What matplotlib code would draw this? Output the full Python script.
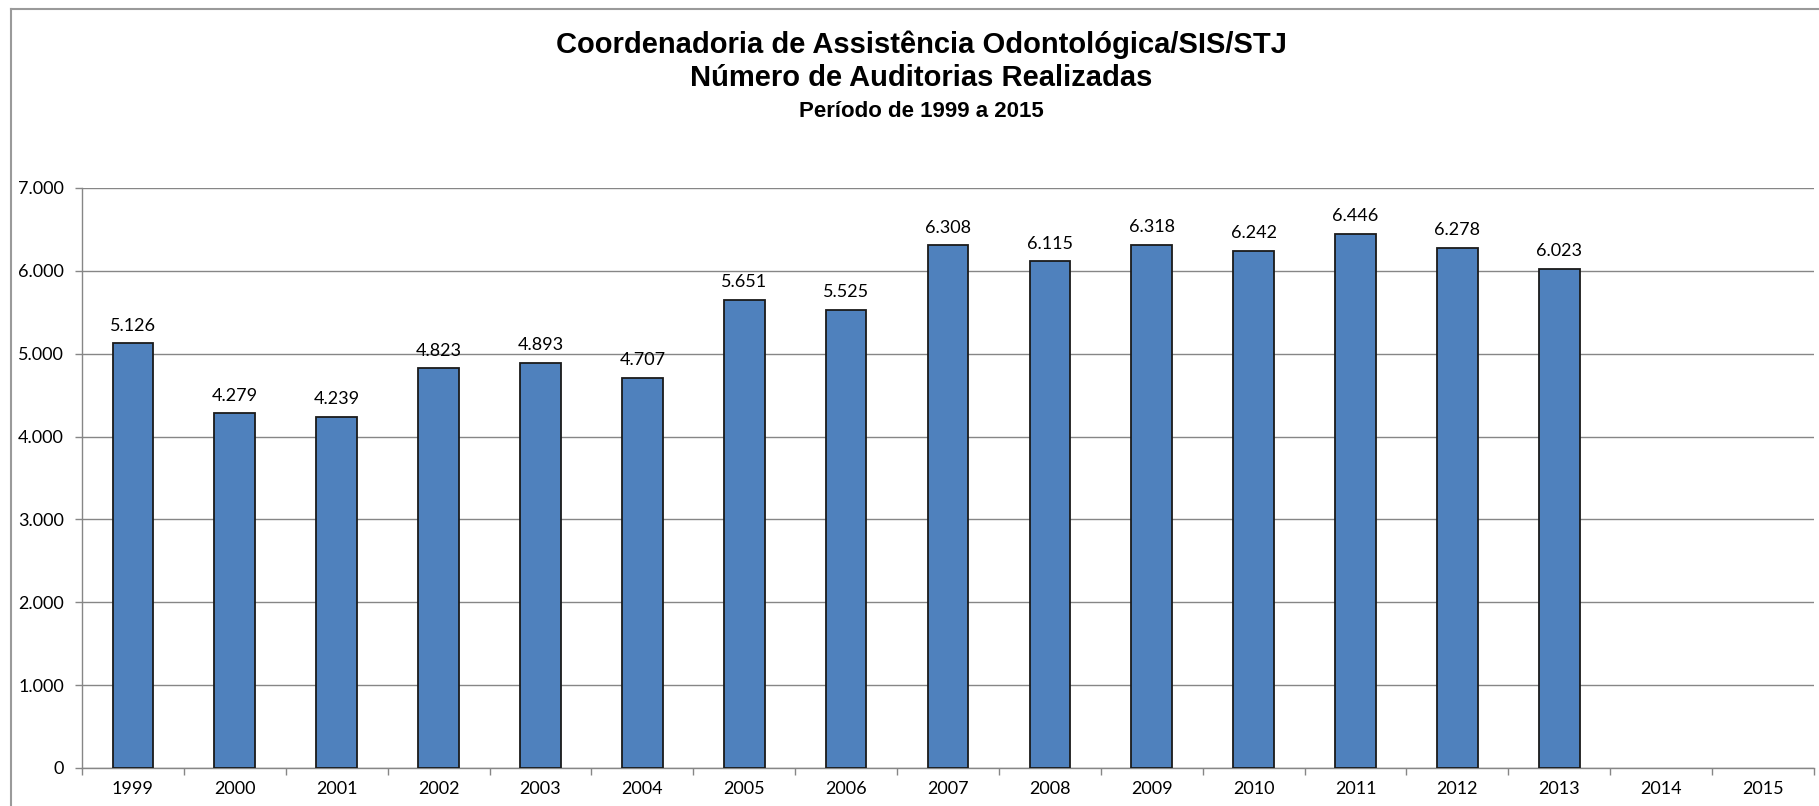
import numpy as np
import matplotlib
matplotlib.use("Agg")
import matplotlib.pyplot as plt
from matplotlib.lines import Line2D
from matplotlib.ticker import FuncFormatter

# data
anos = ['1999', '2000', '2001', '2002', '2003', '2004', '2005', '2006', '2007',
        '2008', '2009', '2010', '2011', '2012', '2013', '2014', '2015']
auditorias = [5126, 4279, 4239, 4823, 4893, 4707, 5651, 5525, 6308,
              6115, 6318, 6242, 6446, 6278, 6023]
titulo = ['Coordenadoria de Assistência Odontológica/SIS/STJ',
          'Número de Auditorias Realizadas',
          'Período de 1999 a 2015']

W, H = 1819, 806
fig = plt.figure(figsize=(W / 100, H / 100), dpi=100)
ax = fig.add_axes([82 / W, 1 - 768 / H, (1814 - 82) / W, (768 - 188) / H])

label_font = 'Lato'
grid_color = '#868686'

x = np.arange(len(anos))
n = len(auditorias)
ax.bar(x[:n], auditorias, width=0.4, color='#4F81BD',
       edgecolor='#1A1A1A', linewidth=1.3, zorder=3)

for xi, v in zip(x[:n], auditorias):
    txt = f'{v:,}'.replace(',', '.')
    ax.annotate(txt, (xi, v), xytext=(0, 7), textcoords='offset points',
                ha='center', va='bottom', fontsize=13, family=label_font,
                color='#000000')

ax.set_xlim(-0.5, len(anos) - 0.5)
ax.set_ylim(0, 7000)
ax.set_yticks(np.arange(0, 7001, 1000))
ax.yaxis.set_major_formatter(
    FuncFormatter(lambda v, p: f'{int(v):,}'.replace(',', '.')))
ax.yaxis.grid(True, color=grid_color, linewidth=1.0, zorder=0)

# category boundaries carry the tick marks, centres carry the labels
ax.set_xticks(np.arange(-0.5, len(anos), 1))
ax.set_xticklabels([])
ax.set_xticks(x, minor=True)
ax.set_xticklabels(anos, minor=True, family=label_font, fontsize=13)
ax.tick_params(axis='x', which='major', length=5, width=1, color=grid_color,
               direction='out')
ax.tick_params(axis='x', which='minor', length=0, pad=9)
ax.tick_params(axis='y', length=5, width=1, color=grid_color, pad=8,
               labelsize=13)
for lab in ax.get_yticklabels():
    lab.set_family(label_font)

for s in ['top', 'right']:
    ax.spines[s].set_visible(False)
for s in ['left', 'bottom']:
    ax.spines[s].set_color(grid_color)
    ax.spines[s].set_linewidth(1.0)

# outer chart border (top and left edges visible)
fig.add_artist(Line2D([11 / W, 1.0], [1 - 9 / H, 1 - 9 / H],
                      transform=fig.transFigure, color='#9A9A9A', linewidth=1.5))
fig.add_artist(Line2D([11 / W, 11 / W], [0, 1 - 9 / H],
                      transform=fig.transFigure, color='#9A9A9A', linewidth=1.5))

cx = 921 / W
fig.text(cx, 1 - 53 / H, titulo[0], ha='center', va='baseline',
         family='Liberation Sans', weight='bold', fontsize=21)
fig.text(cx, 1 - 86 / H, titulo[1], ha='center', va='baseline',
         family='Liberation Sans', weight='bold', fontsize=21)
fig.text(cx, 1 - 117 / H, titulo[2], ha='center', va='baseline',
         family='Liberation Sans', weight='bold', fontsize=16)

fig.savefig('out.png', dpi=100, facecolor='white')
